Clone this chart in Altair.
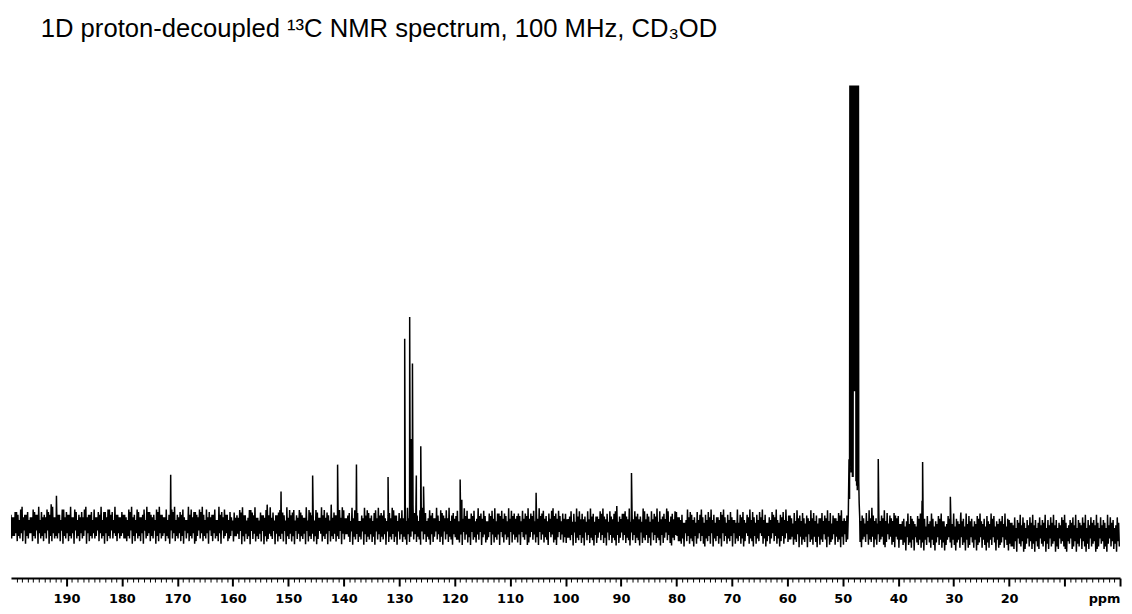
import altair as alt
import pandas as pd

TITLE = "1D proton-decoupled \u00b9\u00b3C NMR spectrum, 100 MHz, CD\u2083OD"
PPM_DOMAIN = [200, 0]
MAJOR_LABELS = [190, 180, 170, 160, 150, 140, 130, 120, 110, 100, 90, 80, 70, 60, 50, 40, 30, 20]
UNIT_LABEL = "ppm"

# resolved signals (ppm, intensity; 100 = top of the plot)
PEAK_PPM = [191.8, 171.2, 153.8, 151.3, 145.6, 141.1, 137.7, 132.0, 129.0, 128.1,
            127.8, 127.6, 126.9, 126.1, 125.6, 119.0, 118.7, 105.3, 88.1, 43.6,
            35.7, 35.6, 30.6, 28.7]
PEAK_HEIGHT = [6.7, 11.5, 4.7, 7.7, 11.3, 13.8, 13.8, 11.0, 42.4, 47.4,
               19.6, 36.8, 11.3, 18.0, 8.8, 10.4, 5.8, 7.4, 11.9, 15.1,
               5.6, 14.4, 6.5, 2.9]

# CD3OD solvent multiplet (lines and valleys)
SOLVENT_PPM = [49.0, 48.87, 48.78, 48.68, 48.62, 48.56, 48.5, 48.44, 48.38, 48.32,
               48.26, 48.2, 48.14, 48.08, 48.02, 47.95, 47.88, 47.81, 47.74, 47.68,
               47.62, 47.56, 47.5, 47.44, 47.38, 47.32, 47.26, 47.2, 47.12, 47.04, 46.95]
SOLVENT_HEIGHT = [2.5, 15.0, 6.0, 150, 14, 150, 12, 150, 13, 150,
                  11, 150, 11, 150, 30.5, 150, 30.5, 150, 30.5, 150,
                  10, 150, 9, 150, 8, 150, 9, 150, 10.0, 5.0, 2.0]

# baseline level per 20 ppm segment (200-180, 180-160, ... 20-0)
BASELINE = [0.0, 0.0, -0.1, -0.2, -0.3, -0.4, -0.6, -0.8, -1.5, -1.8]

# noise envelope readings per 20 ppm segment (digit = level above / below baseline)
NOISE_UP = [
    "43355426734452336544725343654873354426635447336524353673445263354725536645274433",
    "54432657342653346275543426574433624365724354632274635543657426353446227453644253",
    "25343657442366547332544365473524456354273645624365433726544265337463542835442637",
    "63345273645224374653425637454632453764425363527364853426374523645337426543637245",
    "34622537463354623745364225463725546354273645345426354735462637456342536745364253",
    "53346252746353426374524436574352643568243556437253645342763542635472634537624536",
    "64435223746534263574253647352443657425364332725463254736425364735224365473254637",
    "35542637453642543746352446354736254436573435264352647354263748534263547362543654",
    "63345247365432657435263475243657442365437254364527364524365743526437562435463725",
    "54436254736425364735246354725364735243657423546372543647253645374263542736452364",
]
NOISE_DOWN = [
    "54436453627453364527354635274635453627453645372546354273645354263547364525346354",
    "35564527463546372543645274635436457253645364725364537642536453724635463725436542",
    "64435274635472536453627465345273645362745364725364537264536475236453726453645273",
    "53346274536452736453647253645372645364725364573642536457253645736425364725364573",
    "45563725364725463527436542736453724635472635463724537642536472536457243657425364",
    "64453726453647253645736425364725364573642536457253645726453647253645736425367453",
    "35564725364573642536745362745364725364537264536475236457364523647536425364753642",
    "54436452736453725463573645247365426354736254735624365743526453746254367524365734",
    "63354725463724536473524635742536475324635743625473652463754263574635247365426357",
    "45563724537642536473562453746254375624356734265374526357462543765243657425364735",
]
NOISE_LEVEL = 0.6
SEGMENT = 20

rows = []
for s in range(len(BASELINE)):
    hi = PPM_DOMAIN[0] - SEGMENT * s
    up, dn = NOISE_UP[s], NOISE_DOWN[s]
    for k, ch in enumerate(up):
        rows.append((hi - SEGMENT * k / len(up), BASELINE[s] + int(ch) * NOISE_LEVEL))
    for k, ch in enumerate(dn):
        rows.append((hi - SEGMENT * (k + 0.5) / len(dn), BASELINE[s] - int(ch) * NOISE_LEVEL))
lo_s, hi_s = min(SOLVENT_PPM), max(SOLVENT_PPM)
rows = [r for r in rows if not (lo_s - 0.05 < r[0] < hi_s + 0.05)]
rows += list(zip(PEAK_PPM, PEAK_HEIGHT))
rows += list(zip(SOLVENT_PPM, SOLVENT_HEIGHT))
rows.sort(key=lambda r: -r[0])
df = pd.DataFrame(rows, columns=["ppm", "intensity"])
df["idx"] = range(len(df))

major_list = ",".join(str(v) for v in MAJOR_LABELS)
label_expr = (
    f"datum.value === 0 ? '{UNIT_LABEL}' : "
    f"(indexof([{major_list}], datum.value) >= 0 ? datum.label : '')"
)

x_axis = alt.Axis(
    values=list(range(0, 200)),
    labelExpr=label_expr,
    tickSize={"condition": {"test": "datum.value % 10 === 0", "value": 8}, "value": 4},
    tickWidth={"condition": {"test": "datum.value % 10 === 0", "value": 2}, "value": 1},
    labelAlign={"condition": {"test": "datum.value === 0", "value": "right"}, "value": "center"},
    tickColor="black",
    domainColor="black",
    domainWidth=2,
    labelFont="DejaVu Sans",
    labelFontWeight="bold",
    labelFontSize=13,
    labelColor="black",
    labelOverlap=False,
    labelFlush=False,
    labelPadding=7,
    grid=False,
    title=None,
)

chart = (
    alt.Chart(df)
    .mark_line(color="black", strokeWidth=1.5, clip=True)
    .encode(
        x=alt.X("ppm:Q", scale=alt.Scale(domain=PPM_DOMAIN, nice=False, zero=False), axis=x_axis),
        y=alt.Y("intensity:Q", scale=alt.Scale(domain=[-12, 100], nice=False, zero=False), axis=None),
        order=alt.Order("idx:Q"),
    )
    .properties(
        width=1117,
        height=496,
        title=alt.TitleParams(
            TITLE,
            anchor="start",
            dx=30,
            fontSize=25.8,
            font="Liberation Sans",
            fontWeight="normal",
            color="black",
            offset=43,
        ),
        autosize=alt.AutoSizeParams(type="none"),
        padding={"left": 3, "top": 76, "right": 4, "bottom": 30},
    )
    .configure_view(stroke=None)
)

chart.save("out.html", embed_options={"renderer": "svg", "actions": False})
